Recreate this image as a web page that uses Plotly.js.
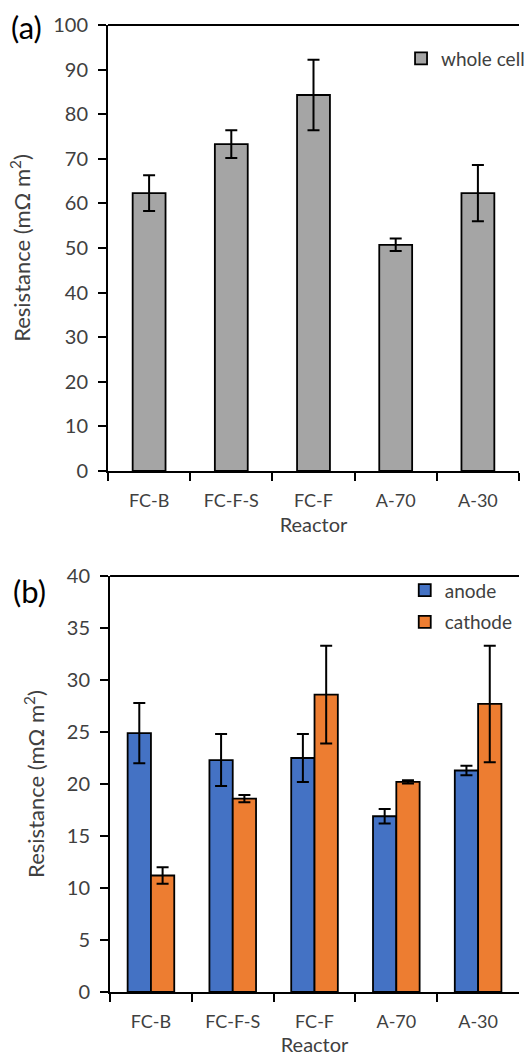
<!DOCTYPE html>
<html>
<head>
<meta charset="utf-8">
<script src="https://cdn.plot.ly/plotly-3.0.1.min.js"></script>
<style>
  html, body { margin: 0; padding: 0; background: #fff; overflow: hidden; }
  #chart { width: 531px; height: 1056px; }
</style>
</head>
<body>
<div id="chart"></div>
<script>
// ---- Data ----
const reactors = ["FC-B", "FC-F-S", "FC-F", "A-70", "A-30"];

const wholeCell    = [62.3, 73.3, 84.3, 50.7, 62.3];
const wholeCellErr = [4.0, 3.1, 7.9, 1.4, 6.3];

const anode       = [24.9, 22.3, 22.5, 16.9, 21.3];
const anodeErr    = [2.9, 2.5, 2.3, 0.7, 0.45];
const cathode     = [11.2, 18.6, 28.6, 20.2, 27.7];
const cathodeErr  = [0.8, 0.35, 4.7, 0.15, 5.6];

// ---- Styles ----
const FONT = "Lato, 'Open Sans', sans-serif";
const TXT = "#404040";
const errStyle = (arr) => ({ type: "data", array: arr, visible: true, color: "#000", thickness: 2, width: 6 });

const traces = [
  {
    type: "bar", name: "whole cell", x: reactors, y: wholeCell,
    xaxis: "x", yaxis: "y", width: 0.4, legend: "legend",
    marker: { color: "#A5A5A5", line: { color: "#000", width: 1.8 } },
    error_y: errStyle(wholeCellErr)
  },
  {
    type: "bar", name: "anode", x: reactors, y: anode,
    xaxis: "x2", yaxis: "y2", legend: "legend2", legendgroup: "a",
    marker: { color: "#4472C4", line: { color: "#000", width: 1.8 } },
    error_y: errStyle(anodeErr)
  },
  {
    type: "bar", name: "cathode", x: reactors, y: cathode,
    xaxis: "x2", yaxis: "y2", legend: "legend2", legendgroup: "c",
    marker: { color: "#ED7D31", line: { color: "#000", width: 1.8 } },
    error_y: errStyle(cathodeErr)
  }
];

const xBase = {
  type: "category", showgrid: false, zeroline: false,
  showline: true, linecolor: "#000", linewidth: 2,
  ticks: "outside", tickson: "boundaries", ticklen: 8, tickwidth: 2, tickcolor: "#000",
  tickfont: { family: FONT, size: 18, color: TXT },
  ticklabelstandoff: 12,
  title: { text: "Reactor", font: { family: FONT, size: 20, color: TXT }, standoff: 8 },
  range: [-0.5, 4.5], fixedrange: true
};
const yBase = {
  showgrid: false, zeroline: false,
  showline: true, linecolor: "#000", linewidth: 2,
  ticks: "outside", ticklen: 8, tickwidth: 2, tickcolor: "#000",
  tickfont: { family: FONT, size: 20, color: TXT },
  ticklabelstandoff: 6,
  title: { text: "Resistance (mΩ m<sup>2</sup>)", font: { family: FONT, size: 22, color: TXT }, standoff: 16 },
  fixedrange: true
};

const layout = {
  width: 531, height: 1056,
  margin: { l: 108, r: 1, t: 25, b: 64 },
  paper_bgcolor: "#fff", plot_bgcolor: "#fff",
  font: { family: FONT, color: TXT },
  barmode: "group", bargap: 0.43, bargroupgap: 0,
  showlegend: true,
  xaxis:  Object.assign({}, xBase, { anchor: "y",  domain: [0, 1] }),
  xaxis2: Object.assign({}, xBase, { anchor: "y2", domain: [0.005, 1] }),
  yaxis:  Object.assign({}, yBase, { anchor: "x",  domain: [0.5388, 1], range: [0, 100], dtick: 10 }),
  yaxis2: Object.assign({}, yBase, { anchor: "x2", domain: [0, 0.4302], range: [0, 40], dtick: 5 }),
  legend: {
    x: 0.713, y: 0.985, xanchor: "left", yanchor: "top",
    font: { family: FONT, size: 19, color: TXT }, bgcolor: "rgba(0,0,0,0)"
  },
  legend2: {
    x: 0.722, y: 0.435, xanchor: "left", yanchor: "top",
    font: { family: FONT, size: 19, color: TXT }, bgcolor: "rgba(0,0,0,0)",
    traceorder: "grouped", tracegroupgap: 4
  },
  shapes: [
    { type: "line", xref: "x domain", yref: "y domain", x0: 0, x1: 1, y0: 1, y1: 1, line: { color: "#000", width: 2 } },
    { type: "line", xref: "x2 domain", yref: "y2 domain", x0: 0, x1: 1, y0: 1, y1: 1, line: { color: "#000", width: 2 } }
  ],
  annotations: [
    { text: "(a)", xref: "paper", yref: "paper", x: -0.24, y: 0.998, xanchor: "left", yanchor: "middle",
      showarrow: false, font: { family: FONT, size: 31, color: "#000" } },
    { text: "(b)", xref: "paper", yref: "paper", x: -0.235, y: 0.415, xanchor: "left", yanchor: "middle",
      showarrow: false, font: { family: FONT, size: 31, color: "#000" } }
  ]
};

Plotly.newPlot("chart", traces, layout, { displayModeBar: false, staticPlot: true });
</script>
</body>
</html>
